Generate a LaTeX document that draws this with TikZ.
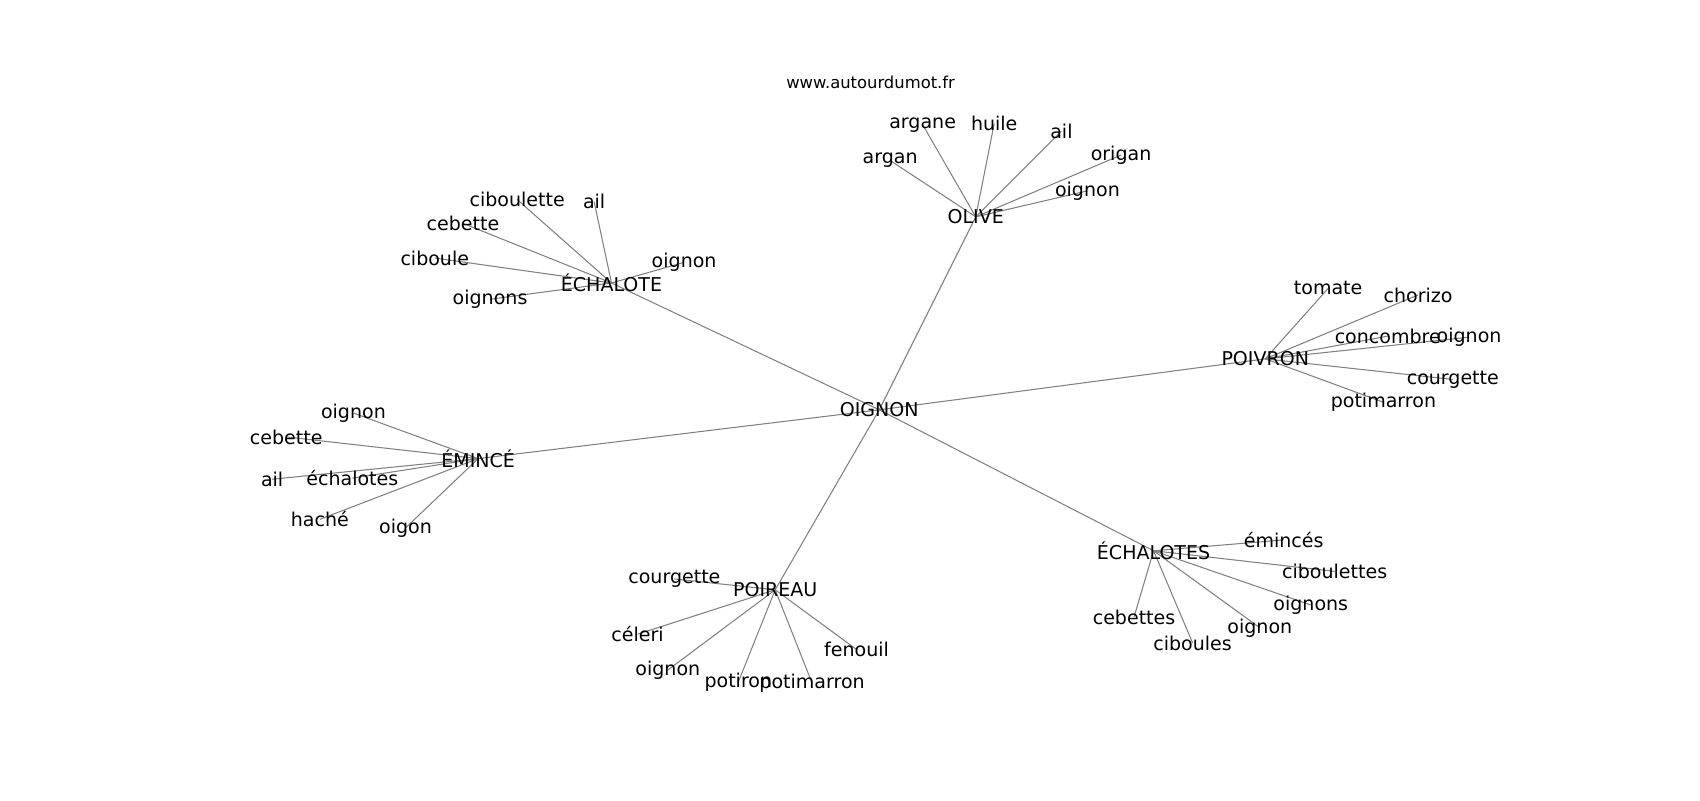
\documentclass[tikz,border=0pt]{standalone}
\usepackage{fontspec}
\setmainfont{DejaVu Sans}
\usetikzlibrary{backgrounds}
\definecolor{edgegray}{RGB}{128,128,128}
\tikzset{
  lbl/.style={inner sep=0pt, font=\fontsize{13.7}{16}\selectfont, text=black},
  ttl/.style={inner sep=0pt, font=\fontsize{11.8}{14}\selectfont, text=black},
  edge/.style={draw=edgegray, line width=0.75pt}
}
\begin{document}
\begin{tikzpicture}[x=0.7806pt, y=-0.7806pt]
\useasboundingbox (0,0) rectangle (1568,738);
\node[ttl] (title) at (803,76) {www.autourdumot.fr};
% center and hubs
\node[lbl] (o) at (811,378) {OIGNON};
\node[lbl] (ol) at (900,200) {OLIVE};
\node[lbl] (ec) at (564,261) {ÉCHALOTE};
\node[lbl] (pv) at (1167,331) {POIVRON};
\node[lbl] (em) at (441,423) {ÉMINCÉ};
\node[lbl] (pr) at (715,544) {POIREAU};
\node[lbl] (es) at (1064,508) {ÉCHALOTES};
% OLIVE leaves
\node[lbl] (ol1) at (821,148) {argan};
\node[lbl] (ol2) at (851,115) {argane};
\node[lbl] (ol3) at (917,114) {huile};
\node[lbl] (ol4) at (979,121) {ail};
\node[lbl] (ol5) at (1034,143) {origan};
\node[lbl] (ol6) at (1003,176) {oignon};
% ECHALOTE leaves
\node[lbl] (ec1) at (477,184) {ciboulette};
\node[lbl] (ec2) at (548,186) {ail};
\node[lbl] (ec3) at (427,206) {cebette};
\node[lbl] (ec4) at (401,238) {ciboule};
\node[lbl] (ec5) at (452,276) {oignons};
\node[lbl] (ec6) at (631,242) {oignon};
% POIVRON leaves
\node[lbl] (pv1) at (1225,266) {tomate};
\node[lbl] (pv2) at (1308,272) {chorizo};
\node[lbl] (pv3) at (1280,310) {concombre};
\node[lbl] (pv4) at (1355,311) {oignon};
\node[lbl] (pv5) at (1340,350) {courgette};
\node[lbl] (pv6) at (1276,371) {potimarron};
% EMINCE leaves
\node[lbl] (em1) at (326,381) {oignon};
\node[lbl] (em2) at (264,403) {cebette};
\node[lbl] (em3) at (251,442) {ail};
\node[lbl] (em4) at (325,441) {échalotes};
\node[lbl] (em5) at (295,479) {haché};
\node[lbl] (em6) at (374,487) {oigon};
% POIREAU leaves
\node[lbl] (pr1) at (622,534) {courgette};
\node[lbl] (pr2) at (588,585) {céleri};
\node[lbl] (pr3) at (616,618) {oignon};
\node[lbl] (pr4) at (681,629) {potiron};
\node[lbl] (pr5) at (749,630) {potimarron};
\node[lbl] (pr6) at (790,599) {fenouil};
% ECHALOTES leaves
\node[lbl] (es1) at (1184,498) {émincés};
\node[lbl] (es2) at (1231,527) {ciboulettes};
\node[lbl] (es3) at (1209,558) {oignons};
\node[lbl] (es4) at (1162,579) {oignon};
\node[lbl] (es5) at (1100,593) {ciboules};
\node[lbl] (es6) at (1046,569) {cebettes};
\begin{scope}[on background layer]
\fill[white] (0,0) rectangle (1568,738);
\foreach \h in {ol,ec,pv,em,pr,es}{
  \draw[edge] (o.center) -- (\h.center);
  \foreach \i in {1,...,6}{
    \draw[edge] (\h.center) -- (\h\i.center);
  }
}
\end{scope}
\end{tikzpicture}
\end{document}
